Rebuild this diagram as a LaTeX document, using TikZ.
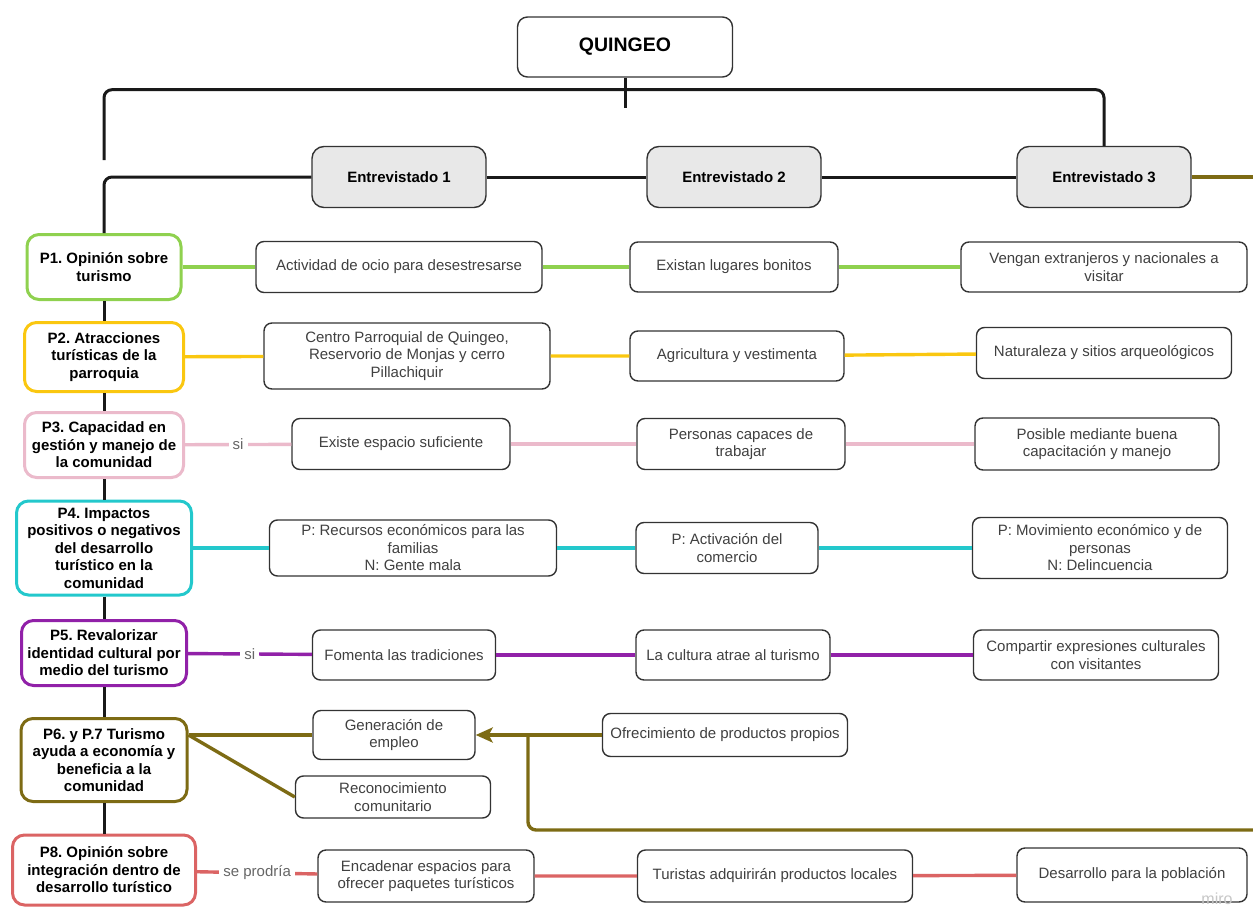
\documentclass[tikz,border=0pt]{standalone}
\usepackage{fontspec}
\setmainfont{Liberation Sans}
\usetikzlibrary{arrows.meta,calc}

\definecolor{pverde}{HTML}{8FD14F}
\definecolor{pamarillo}{HTML}{FAC710}
\definecolor{prosa}{HTML}{EBBACB}
\definecolor{pcian}{HTML}{23C8CC}
\definecolor{pmorado}{HTML}{9121A8}
\definecolor{poliva}{HTML}{7D6B14}
\definecolor{projo}{HTML}{DB6464}
\newcommand{\txtnorm}{\fontsize{15}{17.5}\selectfont}
\frenchspacing

\begin{document}
\begin{tikzpicture}[x=1pt,y=-1pt,
  preg/.style={draw,line width=3pt,rounded corners=12pt,fill=white,align=center,
    font=\txtnorm\bfseries,inner sep=1pt},
  resp/.style={draw=black!80,line width=1.4pt,rounded corners=8pt,fill=white,align=center,
    text=black!75,font=\txtnorm,inner sep=1pt},
  entr/.style={draw=black!80,line width=1.4pt,rounded corners=12pt,fill=black!9,
    font=\txtnorm\bfseries,minimum width=174pt,minimum height=61pt},
  link/.style={line width=3pt,black!90},
  rama/.style={line width=3.4pt},
  etiq/.style={fill=white,text=black!60,font=\txtnorm,inner sep=4pt}]
\useasboundingbox (0,0) rectangle (1253,907);

% raiz y entrevistados
\node[draw=black!80,line width=1.4pt,rounded corners=10pt,fill=white,minimum width=215pt,
  minimum height=60pt,font=\fontsize{19.5}{22}\selectfont\bfseries] (quingeo) at (625,47) {QUINGEO};
\node[entr] (e1) at (399,177) {Entrevistado 1};
\node[entr] (e2) at (734,177) {Entrevistado 2};
\node[entr] (e3) at (1104,177) {Entrevistado 3};

% preguntas
\node[preg,draw=pverde,minimum width=154pt,minimum height=65pt] (p1) at (104,267) {P1. Opinión sobre\\turismo};
\node[preg,draw=pamarillo,minimum width=159pt,minimum height=69pt] (p2) at (104,357) {P2. Atracciones\\turísticas de la\\parroquia};
\node[preg,draw=prosa,minimum width=159pt,minimum height=65pt] (p3) at (104,445) {P3. Capacidad en\\gestión y manejo de\\la comunidad};
\node[preg,draw=pcian,minimum width=175pt,minimum height=94pt] (p4) at (104,548) {P4. Impactos\\positivos o negativos\\del desarrollo\\turístico en la\\comunidad};
\node[preg,draw=pmorado,minimum width=165pt,minimum height=65pt] (p5) at (104,653) {P5. Revalorizar\\identidad cultural por\\medio del turismo};
\node[preg,draw=poliva,minimum width=166pt,minimum height=83pt] (p6) at (104,760) {P6. y P.7 Turismo\\ayuda a economía y\\beneficia a la\\comunidad};
\node[preg,draw=projo,minimum width=183pt,minimum height=70pt] (p8) at (104,870) {P8. Opinión sobre\\integración dentro de\\desarrollo turístico};

% respuestas
\node[resp,minimum width=286pt,minimum height=51pt] (a11) at (399,267) {Actividad de ocio para desestresarse};
\node[resp,minimum width=208pt,minimum height=50pt] (a12) at (734,267) {Existan lugares bonitos};
\node[resp,minimum width=286pt,minimum height=50pt] (a13) at (1104,267) {Vengan extranjeros y nacionales a\\visitar};

\node[resp,minimum width=286pt,minimum height=66pt] (a21) at (407,356) {Centro Parroquial de Quingeo,\\Reservorio de Monjas y cerro\\Pillachiquir};
\node[resp,minimum width=214pt,minimum height=50pt] (a22) at (737,356) {Agricultura y vestimenta};
\node[resp,minimum width=255pt,minimum height=51pt] (a23) at (1104,353) {Naturaleza y sitios arqueológicos};

\node[resp,minimum width=218pt,minimum height=51pt] (a31) at (401,444) {Existe espacio suficiente};
\node[resp,minimum width=208pt,minimum height=51pt] (a32) at (741,444) {Personas capaces de\\trabajar};
\node[resp,minimum width=244pt,minimum height=52pt] (a33) at (1097,444) {Posible mediante buena\\capacitación y manejo};

\node[resp,minimum width=287pt,minimum height=56pt] (a41) at (413,548) {P: Recursos económicos para las\\familias\\N: Gente mala};
\node[resp,minimum width=182pt,minimum height=51pt] (a42) at (727,548) {P: Activación del\\comercio};
\node[resp,minimum width=255pt,minimum height=61pt] (a43) at (1100,548) {P: Movimiento económico y de\\personas\\N: Delincuencia};

\node[resp,minimum width=183pt,minimum height=50pt] (a51) at (404,655) {Fomenta las tradiciones};
\node[resp,minimum width=194pt,minimum height=50pt] (a52) at (733,655) {La cultura atrae al turismo};
\node[resp,minimum width=245pt,minimum height=50pt] (a53) at (1096,655) {Compartir expresiones culturales\\con visitantes};

\node[resp,minimum width=162pt,minimum height=49pt] (a61) at (394,735) {Generación de\\empleo};
\node[resp,minimum width=195pt,minimum height=42pt] (a62) at (393,797) {Reconocimiento\\comunitario};
\node[resp,minimum width=245pt,minimum height=43pt] (a63) at (725,735) {Ofrecimiento de productos propios};

\node[resp,minimum width=216pt,minimum height=52pt] (a81) at (426,876) {Encadenar espacios para\\ofrecer paquetes turísticos};
\node[resp,minimum width=275pt,minimum height=52pt] (a82) at (775,876) {Turistas adquirirán productos locales};
\node[resp,minimum width=230pt,minimum height=54pt] (a83) at (1132,875) {Desarrollo para la población};

\node[text=black!22,font=\fontsize{16}{18}\selectfont] (miro) at (1217,899) {miro};

% conectores negros
\coordinate (izq) at (104,160);
\draw[link,rounded corners=8pt] (izq) |- ($(quingeo.south)+(0,12)$) -| (e3.north);
\draw[link] (quingeo.south) -- ++(0,30);
\draw[link,rounded corners=8pt] (e1.west) -| (p1.north);
\draw[link] (e1) -- (e2);
\draw[link] (e2) -- (e3);
\foreach \a/\b in {p1/p2,p2/p3,p3/p4,p4/p5,p5/p6,p6/p8}
	\draw[link] (\a) -- (\b);

% ramas de color
\foreach \p/\a/\b/\c/\col in {p1/a11/a12/a13/pverde,p2/a21/a22/a23/pamarillo,
    p3/a31/a32/a33/prosa,p4/a41/a42/a43/pcian,p5/a51/a52/a53/pmorado,p8/a81/a82/a83/projo}
	\draw[rama,\col] (\a) -- (\b) (\b) -- (\c);
\foreach \p/\a/\col in {p1/a11/pverde,p2/a21/pamarillo,p4/a41/pcian}
	\draw[rama,\col] (\p) -- (\a);
\foreach \p/\a/\col/\txt in {p3/a31/prosa/si,p5/a51/pmorado/si,p8/a81/projo/se prodría}
	\draw[rama,\col] (\p) -- node[etiq] {\txt} (\a);

% P6 y P7
\coordinate (dcha1) at (1253,177);
\coordinate (dcha2) at (1253,830);
\coordinate (union) at (528,735);
\draw[rama,poliva] (p6.east |- a61) -- (a61.west);
\draw[rama,poliva] (p6.east |- a61) -- (a62.west);
\draw[rama,poliva,-{Stealth[length=17pt,width=15pt,inset=4pt]}] (a63) -- (a61);
\draw[rama,poliva] (e3) -- (dcha1);
\draw[rama,poliva,rounded corners=8pt] (dcha2) -| (union);
\end{tikzpicture}
\end{document}
